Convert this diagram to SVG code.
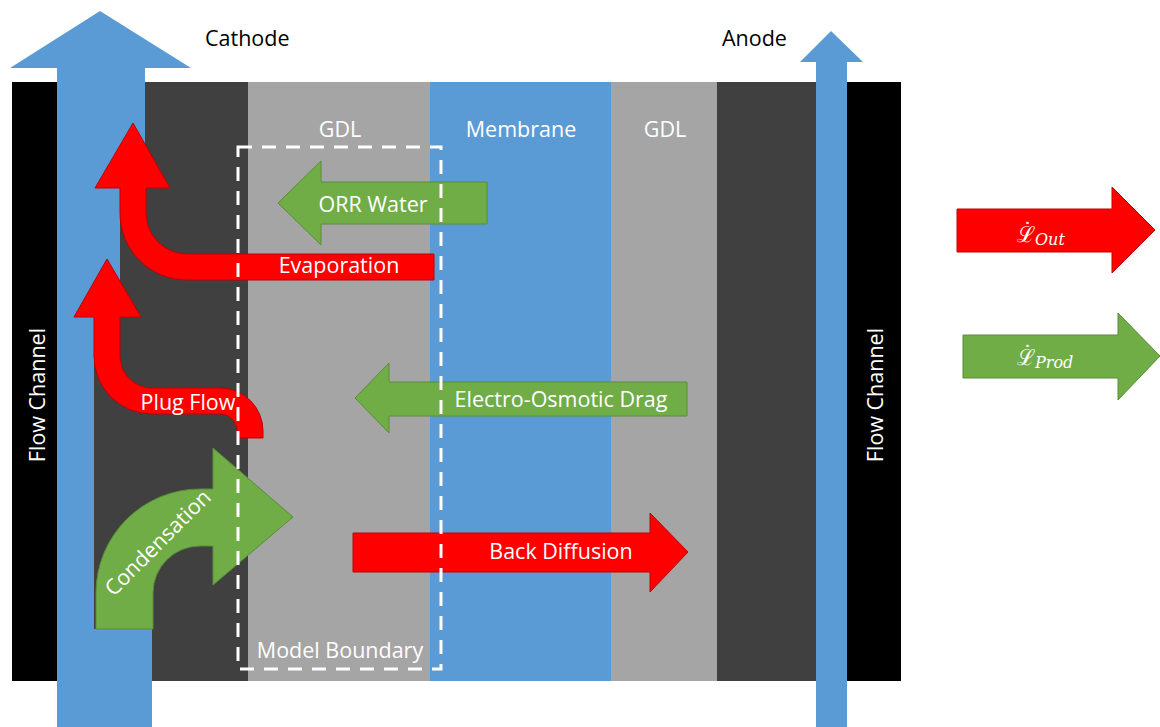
<svg xmlns="http://www.w3.org/2000/svg" width="1160" height="727" viewBox="0 0 1160 727">
<style>
.lbl{font-family:"Open Sans","Liberation Sans",sans-serif;font-size:21.5px;fill:#FFFFFF;text-anchor:middle}
.blk{font-family:"Open Sans","Liberation Sans",sans-serif;font-size:21.5px;fill:#000000}
.red{fill:#FF0000;stroke:#C00000;stroke-width:1}
.grn{fill:#70AD47;stroke:#5A8C38;stroke-width:1}
.blue{fill:#5B9BD5}
.math{font-family:"DejaVu Serif","Liberation Serif",serif;fill:#FFFFFF;font-size:22px}
.dot{font-family:"DejaVu Sans","Liberation Sans",sans-serif;font-size:22px}
.sub{font-size:16px;font-style:italic}
</style>
<rect width="1160" height="727" fill="#FFFFFF"/>
<g id="layers">
  <rect id="flow-channel-cathode" x="12" y="82" width="60" height="599" fill="#000000"/>
  <rect id="cathode-cl" x="57" y="82" width="191" height="599" fill="#404040"/>
  <rect id="gdl-cathode" x="248" y="82" width="182" height="599" fill="#A5A5A5"/>
  <rect id="membrane" x="430" y="82" width="181" height="599" fill="#5B9BD5"/>
  <rect id="gdl-anode" x="611" y="82" width="106" height="599" fill="#A5A5A5"/>
  <rect id="anode-cl" x="717" y="82" width="110" height="599" fill="#404040"/>
  <rect id="flow-channel-anode" x="840" y="82" width="61" height="599" fill="#000000"/>
</g>
<g id="cathode-flow">
  <polygon class="blue" points="10,68 100,11 191,68 145,68 145,188 120,188 120,317 94,317 94,629 152,629 152,727 57,727 57,68"/>
</g>
<g id="anode-flow">
  <polygon class="blue" points="800,62 831,31 863,62 847,62 847,727 816,727 816,62"/>
</g>
<g id="labels">
  <text class="blk" x="205" y="46">Cathode</text>
  <text class="blk" x="722" y="46">Anode</text>
  <text class="lbl" x="340" y="137">GDL</text>
  <text class="lbl" x="521" y="137">Membrane</text>
  <text class="lbl" x="665" y="137">GDL</text>
  <text class="lbl" transform="translate(45,395) rotate(-90)">Flow Channel</text>
  <text class="lbl" transform="translate(883,395) rotate(-90)">Flow Channel</text>
</g>
<g id="connectors">
  <g id="orr-water">
    <path class="grn" d="M278,203 L321,161 L321,182 L487,182 L487,224 L321,224 L321,245 Z"/>
    <text class="lbl" x="373" y="212">ORR Water</text>
  </g>
  <g id="evaporation">
    <path class="red" d="M95,188 L133,123 L170,188 L146,188 L146,213 A41,41 0 0 0 187,254 L434,254 L434,280 L187,280 A67,67 0 0 1 120,213 L120,188 Z"/>
    <text class="lbl" x="339" y="273">Evaporation</text>
  </g>
  <g id="plug-flow">
    <path class="red" d="M74,317 L107,259 L141,317 L120,317 L120,356 A32,32 0 0 0 152,388 L220,388 A43,43 0 0 1 263,431 L263,438 L237,438 L237,431 A17,17 0 0 0 220,414 L152,414 A58,58 0 0 1 94,356 L94,317 Z"/>
    <text class="lbl" x="188" y="410">Plug Flow</text>
  </g>
  <g id="electro-osmotic-drag">
    <path class="grn" d="M355,398 L389,363 L389,382 L687,382 L687,416 L389,416 L389,433 Z"/>
    <text class="lbl" x="561" y="407">Electro-Osmotic Drag</text>
  </g>
  <g id="condensation">
    <path class="grn" d="M96,629 L96,593 A104,104 0 0 1 200,489 L213,489 L213,448 L293,517 L213,585 L213,546 L200,546 A47,47 0 0 0 153,593 L153,629 Z"/>
    <text class="lbl" transform="translate(158,543) rotate(-45)" y="7">Condensation</text>
  </g>
  <g id="back-diffusion">
    <path class="red" d="M353,533 L650,533 L650,513 L688,552 L650,592 L650,572 L353,572 Z"/>
    <text class="lbl" x="561" y="559">Back Diffusion</text>
  </g>
</g>
<g id="model-boundary">
  <rect x="238" y="147" width="203" height="522" fill="none" stroke="#FFFFFF" stroke-width="3" stroke-dasharray="14 10"/>
  <text class="lbl" x="340" y="658">Model Boundary</text>
</g>
<g id="legend">
  <g id="legend-out">
    <path class="red" d="M957,209 L1112,209 L1112,187 L1155,230 L1112,273 L1112,252 L957,252 Z"/>
    <text class="math" x="1017" y="242">ℒ<tspan class="dot" dx="-13" dy="-4">˙</tspan><tspan class="sub" dx="2" dy="7">Out</tspan></text>
  </g>
  <g id="legend-prod">
    <path class="grn" d="M963,335 L1118,335 L1118,313 L1160,356 L1118,400 L1118,378 L963,378 Z"/>
    <text class="math" x="1017" y="365">ℒ<tspan class="dot" dx="-13" dy="-4">˙</tspan><tspan class="sub" dx="2" dy="7">Prod</tspan></text>
  </g>
</g>
</svg>
